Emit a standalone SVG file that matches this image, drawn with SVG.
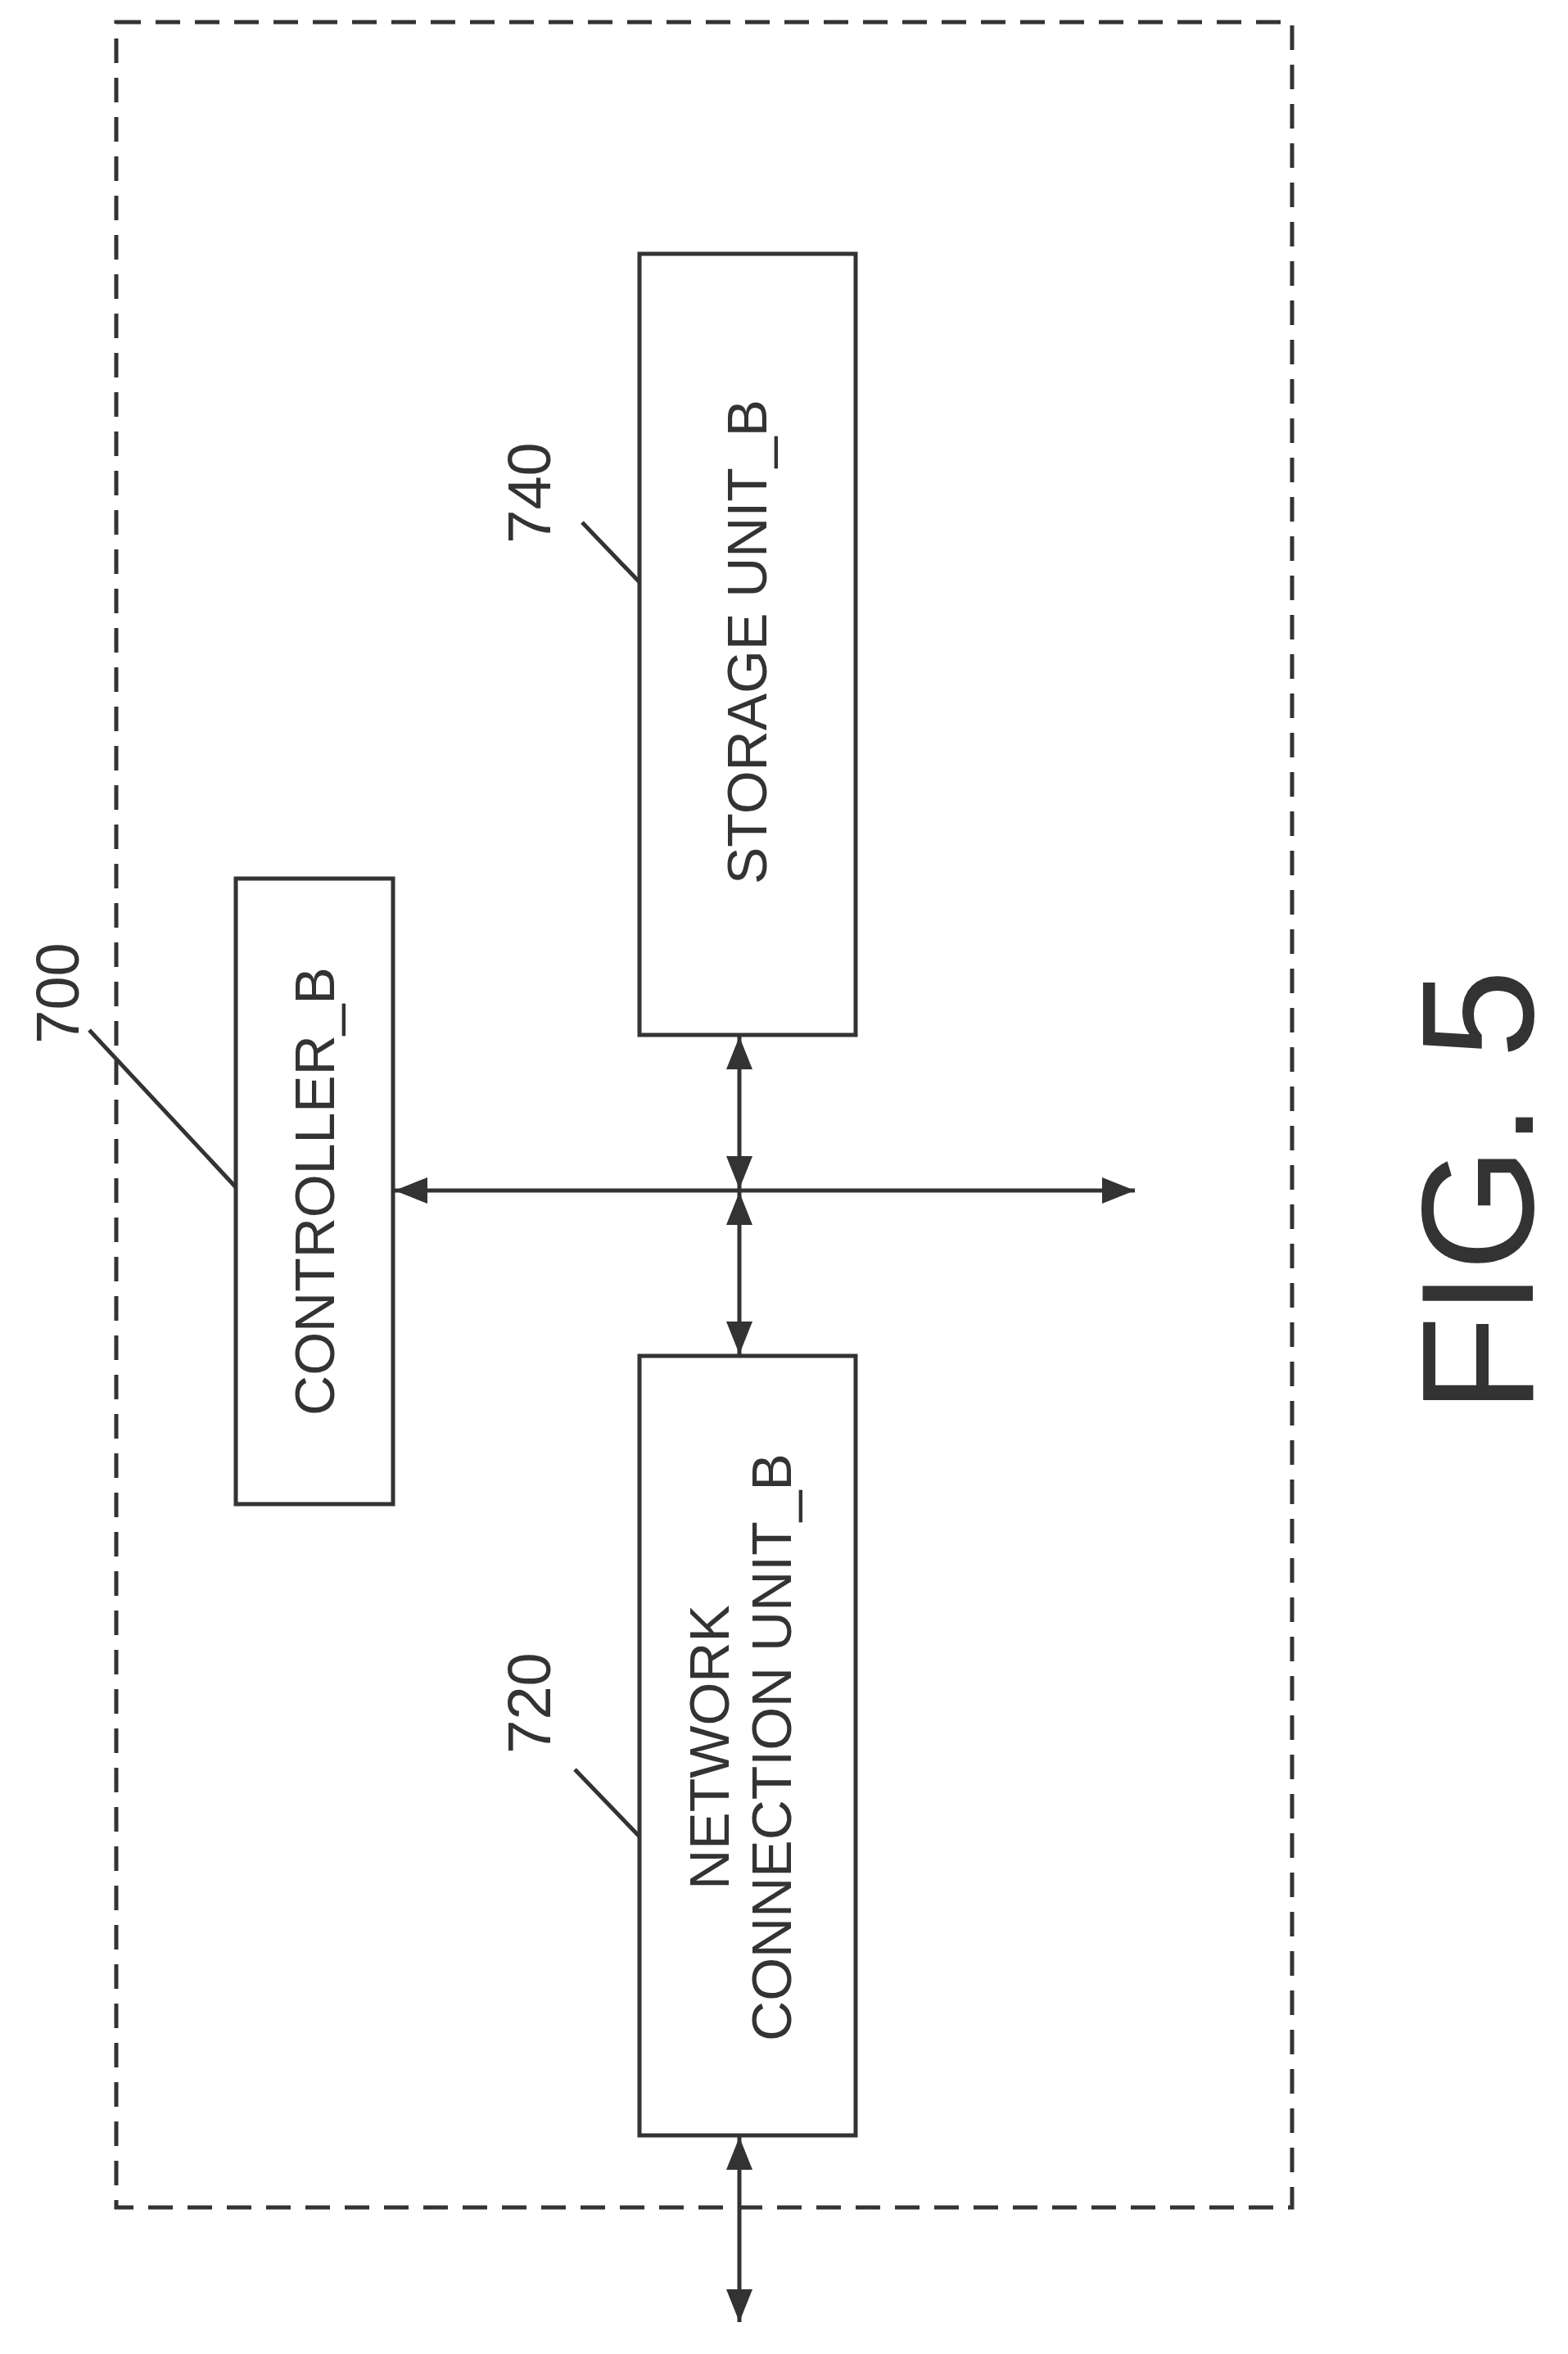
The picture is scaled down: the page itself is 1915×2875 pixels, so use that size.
<svg xmlns="http://www.w3.org/2000/svg" width="1915" height="2875" viewBox="0 0 1915 2875">
<defs>
<marker id="ah" viewBox="0 0 10 10" refX="10" refY="5" markerWidth="40" markerHeight="32" markerUnits="userSpaceOnUse" orient="auto-start-reverse" preserveAspectRatio="none"><path d="M0,0 L10,5 L0,10 z" fill="#333"/></marker>
<style>
.box{fill:#fff;stroke:#333;stroke-width:5}
.t{font-family:"Liberation Sans",Arial,sans-serif;fill:#333;text-anchor:middle}
.ln{stroke:#333;stroke-width:5;fill:none}
.ar{stroke:#333;stroke-width:5;fill:none;marker-start:url(#ah);marker-end:url(#ah)}
</style>
</defs>
<rect width="1915" height="2875" fill="#fff"/>
<rect x="142" y="27" width="1436" height="2669" fill="none" stroke="#333" stroke-width="5" stroke-dasharray="30,18"/>
<g id="controller"><rect class="box" x="288" y="1073" width="192" height="764"/><text class="t" font-size="68" transform="translate(408,1455) rotate(-90)">CONTROLLER_B</text></g>
<g id="storage"><rect class="box" x="781" y="310" width="264" height="954"/><text class="t" font-size="68" transform="translate(936,784) rotate(-90)">STORAGE UNIT_B</text></g>
<g id="network"><rect class="box" x="781" y="1656" width="264" height="952"/><text class="t" font-size="68" transform="translate(890,2134) rotate(-90)"><tspan x="0" y="0">NETWORK</tspan><tspan x="0" y="76">CONNECTION UNIT_B</tspan></text></g>
<g id="labels">
<text class="t" font-size="74" transform="translate(96,1213) rotate(-90)">700</text>
<line class="ln" x1="109" y1="1258" x2="288" y2="1450"/>
<text class="t" font-size="74" transform="translate(672,602) rotate(-90)">740</text>
<line class="ln" x1="711" y1="638" x2="781" y2="711"/>
<text class="t" font-size="74" transform="translate(672,2080) rotate(-90)">720</text>
<line class="ln" x1="702" y1="2161" x2="781" y2="2243"/>
<text class="t" font-size="195" transform="translate(1872,1455) rotate(-90)">FIG. 5</text>
</g>
<g id="connectors">
<line class="ar" x1="482" y1="1454" x2="1386" y2="1454"/>
<line class="ar" x1="903" y1="1266" x2="903" y2="1452"/>
<line class="ar" x1="903" y1="1456" x2="903" y2="1654"/>
<line class="ar" x1="903" y1="2610" x2="903" y2="2836"/>
</g>
</svg>
